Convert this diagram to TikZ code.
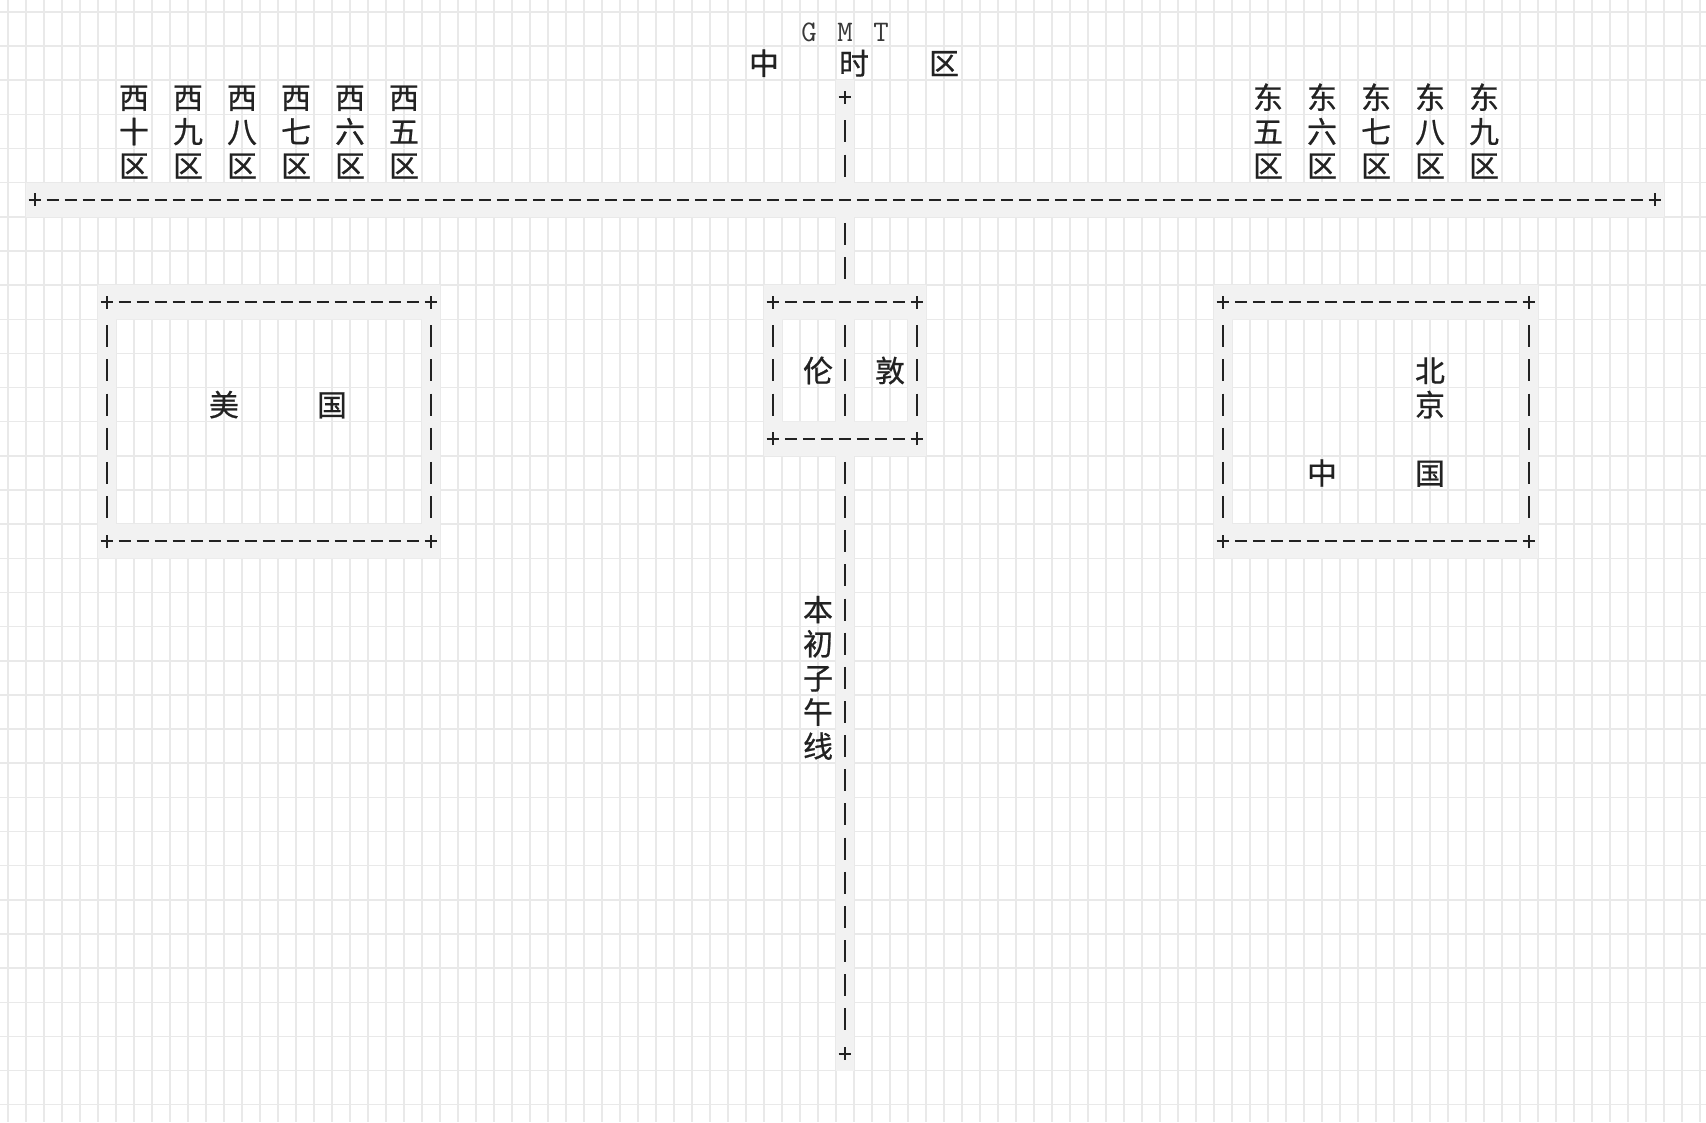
\documentclass[tikz,border=0pt]{standalone}
\usepackage{fontspec}
\usepackage{tikz}
\usetikzlibrary{shapes.misc}
\newfontfamily\cjk[FakeBold=0.7]{Noto Sans CJK SC}
\definecolor{gridGray}{RGB}{233,233,233}
\definecolor{cellGray}{RGB}{242,242,242}
\definecolor{inkDark}{RGB}{34,34,34}
\tikzset{
  hDash/.style={draw=inkDark,line width=0.04cm,dash pattern=on 0.25cm off 0.11cm,
                dash phase=0.305cm,shorten <=0.18cm,shorten >=0.18cm},
  vDash/.style={draw=inkDark,line width=0.04cm,dash pattern=on 0.44cm off 0.243cm,
                dash phase=0.5615cm,shorten <=0.3415cm,shorten >=0.3415cm},
  plusMark/.style={cross out,draw=inkDark,line width=0.04cm,rotate=45,
                   minimum size=0.18cm,inner sep=0pt,outer sep=0pt},
  zhChar/.style={font=\cjk\fontsize{17}{20}\selectfont,text=inkDark,inner sep=0pt,
                 text height=15pt,text depth=2pt},
  gmtText/.style={font=\ttfamily\fontsize{17}{20}\selectfont,text=inkDark!90,inner sep=0pt,
                  text height=11pt,text depth=0pt},
  asciiCell/.style={fill=cellGray},
}

\begin{document}
\begin{tikzpicture}[x=0.36cm,y=-0.683cm]
  \useasboundingbox[fill=white] (-1.944,-0.849) rectangle (92.833,32.006);
  % grid
  \foreach \x in {-1.5,-0.5,...,92.5}{\draw[gridGray,line width=0.03cm] (\x,-0.849) -- (\x,32.006);}
  \foreach \y in {-0.5,0.5,...,31.5}{\draw[gridGray,line width=0.03cm] (-1.944,\y) -- (92.833,\y);}
  % shaded cells under the line characters
  \fill[asciiCell] (-0.5,4.5) rectangle (90.5,5.5);
  \fill[asciiCell] (44.5,1.5) rectangle (45.5,4.5);
  \fill[asciiCell] (44.5,5.5) rectangle (45.5,7.5);
  \fill[asciiCell] (44.5,12.5) rectangle (45.5,30.5);
  \fill[asciiCell] (44.5,8.5) rectangle (45.5,11.5);
  \foreach \a/\b/\t/\u in {4/22/8/15,41/49/8/12,66/83/8/15}{
    \fill[asciiCell,even odd rule] (\a-0.5,\t-0.5) rectangle (\b+0.5,\u+0.5)
      (\a+0.5,\t+0.5) rectangle (\b-0.5,\u-0.5);}

  % time zone line and meridian
  \node[plusMark] (westEnd) at (0,5) {};
  \node[plusMark] (eastEnd) at (90,5) {};
  \node[plusMark] (gmtPlus) at (45,2) {};
  \node[plusMark] (meridianEnd) at (45,30) {};
  \coordinate (meridianCross) at (45,5);
  \coordinate (ldnTop) at (45,8);
  \coordinate (ldnBot) at (45,12);
  \draw[hDash] (westEnd.center) -- (eastEnd.center);
  \draw[vDash] (gmtPlus.center) -- (meridianCross);
  \draw[vDash] (meridianCross) -- (ldnTop);
  \draw[vDash] (ldnTop) -- (ldnBot);
  \draw[vDash] (ldnBot) -- (meridianEnd.center);

  % boxes
  \foreach \n/\a/\b/\t/\u in {usa/4/22/8/15,ldn/41/49/8/12,chn/66/83/8/15}{
    \node[plusMark] (\n NW) at (\a,\t) {};
    \node[plusMark] (\n NE) at (\b,\t) {};
    \node[plusMark] (\n SW) at (\a,\u) {};
    \node[plusMark] (\n SE) at (\b,\u) {};
    \draw[hDash] (\n NW.center) -- (\n NE.center);
    \draw[hDash] (\n SW.center) -- (\n SE.center);
    \draw[vDash] (\n NW.center) -- (\n SW.center);
    \draw[vDash] (\n NE.center) -- (\n SE.center);}

  % labels
  \foreach \c/\z in {43/G,45/M,47/T}{\node[gmtText] (gmt\z) at (\c,0.08) {\z};}
  \foreach \c/\z [count=\i] in {40.5/中,45.5/时,50.5/区}{\node[zhChar] (zone\i) at (\c,1) {\z};}
  \foreach \c/\z [count=\i] in {5.5/十,8.5/九,11.5/八,14.5/七,17.5/六,20.5/五}{
    \node[zhChar] (west\i a) at (\c,2) {西};
    \node[zhChar] (west\i b) at (\c,3) {\z};
    \node[zhChar] (west\i c) at (\c,4) {区};}
  \foreach \c/\z [count=\i] in {68.5/五,71.5/六,74.5/七,77.5/八,80.5/九}{
    \node[zhChar] (east\i a) at (\c,2) {东};
    \node[zhChar] (east\i b) at (\c,3) {\z};
    \node[zhChar] (east\i c) at (\c,4) {区};}
  \node[zhChar] (usa1) at (10.5,11) {美};
  \node[zhChar] (usa2) at (16.5,11) {国};
  \node[zhChar] (ldn1) at (43.5,10) {伦};
  \node[zhChar] (ldn2) at (47.5,10) {敦};
  \node[zhChar] (bj1) at (77.5,10) {北};
  \node[zhChar] (bj2) at (77.5,11) {京};
  \node[zhChar] (chn1) at (71.5,13) {中};
  \node[zhChar] (chn2) at (77.5,13) {国};
  \foreach \z [count=\i] in {本,初,子,午,线}{\node[zhChar] (pm\i) at (43.5,16+\i) {\z};}
\end{tikzpicture}
\end{document}
